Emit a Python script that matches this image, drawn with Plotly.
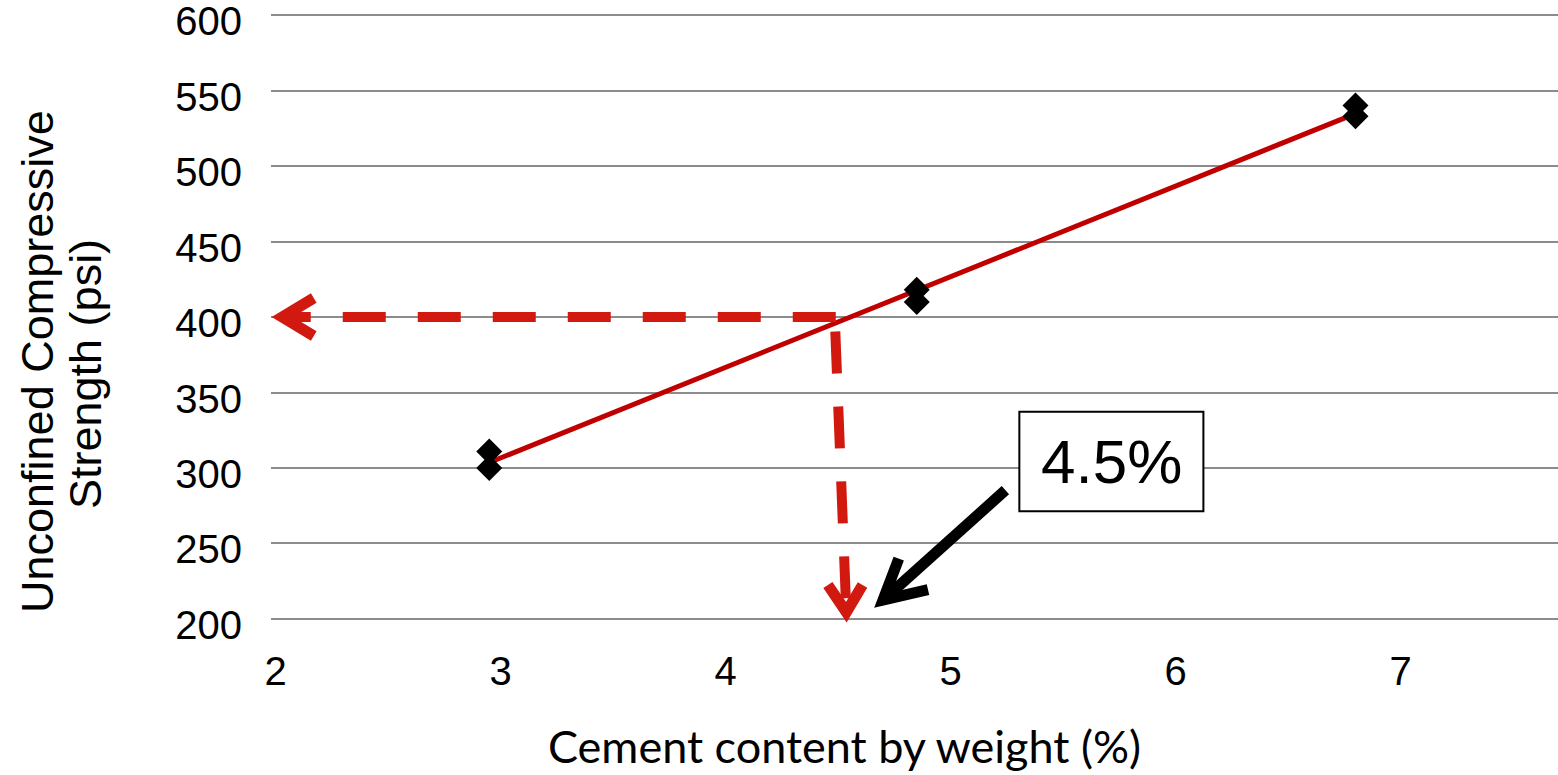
import numpy as np
import plotly.graph_objects as go

# ---- data ----
cement_pct = [2.95, 2.95, 4.85, 4.85, 6.8, 6.8]
ucs_psi = [311, 300, 418, 410, 540, 533]

x_ticks = [2, 3, 4, 5, 6, 7]
y_ticks = [200, 250, 300, 350, 400, 450, 500, 550, 600]

target_ucs = 400          # required strength (psi)
target_cement = 4.5       # resulting cement content (%)
label_text = "4.5%"

X_RANGE = [1.98, 7.70]
Y_RANGE = [198, 602]

# figure geometry (pixels)
W, H = 1558, 775
M_L, M_R, M_T, M_B = 271, 0, 12, 153
PLOT_TOP, PLOT_BOTTOM = M_T, H - M_B

# ---- trend line (least squares fit) ----
slope, intercept = np.polyfit(cement_pct, ucs_psi, 1)
trend_x = [min(cement_pct), max(cement_pct)]
trend_y = [slope * v + intercept for v in trend_x]


def xp(v):
    return (v - X_RANGE[0]) / (X_RANGE[1] - X_RANGE[0])


def yp(v):
    return (v - Y_RANGE[0]) / (Y_RANGE[1] - Y_RANGE[0])


def px2paper_x(px):
    return (px - M_L) / (W - M_L - M_R)


def px2paper_y(py):
    return (PLOT_BOTTOM - py) / (PLOT_BOTTOM - PLOT_TOP)


fig = go.Figure()

fig.add_trace(go.Scatter(
    x=trend_x, y=trend_y, mode="lines",
    line=dict(color="#C00000", width=5),
    showlegend=False, hoverinfo="skip",
))
fig.add_trace(go.Scatter(
    x=cement_pct, y=ucs_psi, mode="markers",
    marker=dict(symbol="diamond", size=20, color="black"),
    showlegend=False, hoverinfo="x+y",
))

RED = "#D2190F"
shapes = []
# horizontal dashed guide at target strength
shapes.append(dict(type="line", xref="paper", yref="paper",
                   x0=xp(4.49), y0=yp(target_ucs), x1=xp(2.03), y1=yp(target_ucs),
                   line=dict(color=RED, width=10, dash="43px,32px"), layer="above"))
# arrowhead at left
shapes.append(dict(type="path", xref="paper", yref="paper",
                   path=f"M {xp(2.17)} {yp(target_ucs + 12.6)} L {xp(2.03)} {yp(target_ucs)} L {xp(2.17)} {yp(target_ucs - 12.6)}",
                   line=dict(color=RED, width=11), layer="above"))
# vertical dashed guide down to cement axis
shapes.append(dict(type="line", xref="paper", yref="paper",
                   x0=xp(target_cement - 0.012), y0=yp(390.4), x1=xp(target_cement + 0.035), y1=yp(212),
                   line=dict(color=RED, width=10, dash="42px,33px"), layer="above"))
shapes.append(dict(type="path", xref="paper", yref="paper",
                   path=f"M {xp(4.455)} {yp(222.5)} L {xp(4.537)} {yp(204.5)} L {xp(4.609)} {yp(222.5)}",
                   line=dict(color=RED, width=11), layer="above"))

# label box
bx0, bx1, by0, by1 = 5.306, 6.124, 271.4, 337.2
shapes.append(dict(type="rect", xref="paper", yref="paper",
                   x0=xp(bx0), x1=xp(bx1), y0=yp(by0), y1=yp(by1),
                   line=dict(color="black", width=2), fillcolor="white", layer="above"))
# black pointer arrow
shapes.append(dict(type="line", xref="paper", yref="paper",
                   x0=xp(5.244), y0=yp(285.3), x1=xp(4.70), y1=yp(212.5),
                   line=dict(color="black", width=11), layer="above"))
shapes.append(dict(type="path", xref="paper", yref="paper",
                   path=f"M {xp(4.77)} {yp(240)} L {xp(4.70)} {yp(212.5)} L {xp(4.90)} {yp(219.5)}",
                   line=dict(color="black", width=11), layer="above"))

annotations = [
    dict(text=label_text, xref="paper", yref="paper",
         x=xp((bx0 + bx1) / 2), y=yp((by0 + by1) / 2), xanchor="center", yanchor="middle",
         showarrow=False, font=dict(family="Liberation Sans, Arial", size=62, color="black")),
    dict(text="Cement content by weight (%)", xref="paper", yref="paper",
         x=px2paper_x(844), y=px2paper_y(775), xanchor="center", yanchor="bottom",
         showarrow=False, font=dict(family="Lato", size=45, color="black")),
    dict(text="Unconfined Compressive", xref="paper", yref="paper", textangle=-90,
         x=px2paper_x(37), y=px2paper_y(362), xanchor="center", yanchor="middle",
         showarrow=False, font=dict(family="Liberation Sans, Arial", size=45, color="black")),
    dict(text="Strength (psi)", xref="paper", yref="paper", textangle=-90,
         x=px2paper_x(86), y=px2paper_y(374), xanchor="center", yanchor="middle",
         showarrow=False, font=dict(family="Liberation Sans, Arial", size=45, color="black")),
]

fig.update_layout(
    width=W, height=H, autosize=False,
    margin=dict(l=M_L, r=M_R, t=M_T, b=M_B),
    plot_bgcolor="white", paper_bgcolor="white",
    shapes=shapes, annotations=annotations,
    showlegend=False,
)
fig.update_xaxes(range=X_RANGE, tickvals=x_ticks, showgrid=False, zeroline=False,
                 showline=False, ticks="", ticklabelstandoff=22,
                 tickfont=dict(family="Liberation Sans, Arial", size=40, color="black"))
fig.update_yaxes(range=Y_RANGE, tickvals=y_ticks, showgrid=True, gridcolor="#8C8C8C",
                 gridwidth=2, zeroline=False, showline=False, ticks="", ticklabelstandoff=28,
                 ticklabelshift=6, ticklabeloverflow="allow",
                 tickfont=dict(family="Liberation Sans, Arial", size=40, color="black"))

fig.write_html("out.html", config={"displayModeBar": False},
               post_script="document.body.style.margin='0';document.body.style.overflow='hidden';")
